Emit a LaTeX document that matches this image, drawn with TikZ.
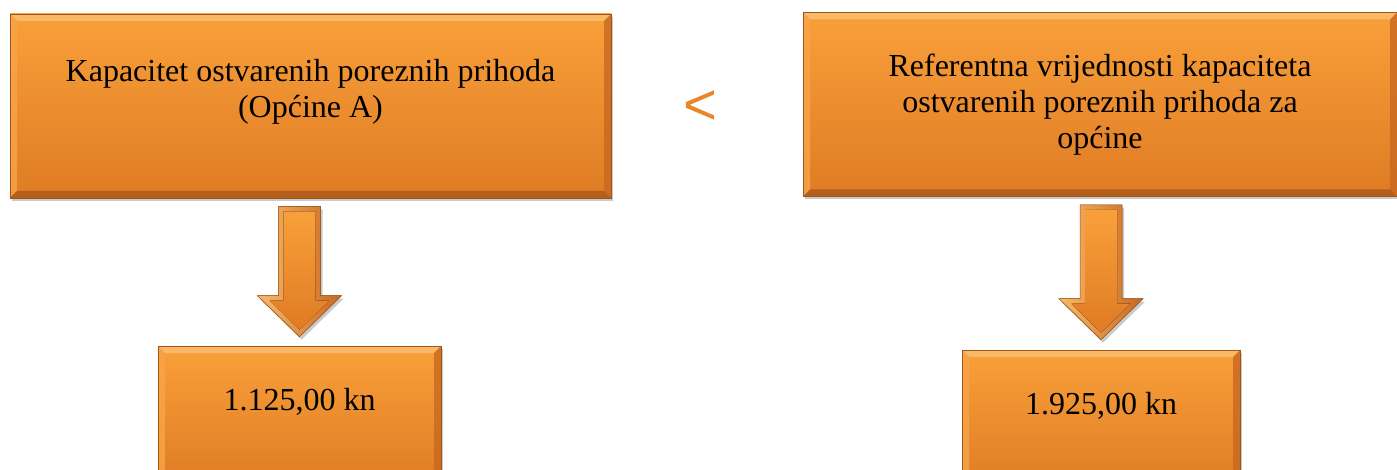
\documentclass[tikz,border=0pt]{standalone}
\usepackage{fontspec}
\setmainfont{Liberation Serif}
\newfontfamily\ltsans{Liberation Sans}
\usetikzlibrary{calc,shadows}
\definecolor{orTop}{HTML}{F9A03A}
\definecolor{orBot}{HTML}{DF7B24}
\definecolor{bvLight}{HTML}{FBB868}
\definecolor{bvLeft}{HTML}{F9A448}
\definecolor{bvRight}{HTML}{C8681F}
\definecolor{bvDark}{HTML}{B45E1B}
\definecolor{edge}{HTML}{A0561A}
\definecolor{ltOrange}{HTML}{E8862C}
\tikzset{
  x=1pt,y=1pt,
  bevelbox/.style={draw=edge, line width=0.6pt, rectangle, inner sep=0pt,
    top color=orTop, bottom color=orBot,
    drop shadow={shadow xshift=2pt, shadow yshift=-3pt, opacity=0.35, fill=black!60},
    font=\fontsize{32}{36}\selectfont, align=center, text=black,
    path picture={
      \coordinate (pnw) at (path picture bounding box.north west);
      \coordinate (pne) at (path picture bounding box.north east);
      \coordinate (psw) at (path picture bounding box.south west);
      \coordinate (pse) at (path picture bounding box.south east);
      \fill[bvLight] (pnw) -- (pne) -- ([shift={(-7pt,-7pt)}]pne) -- ([shift={(7pt,-7pt)}]pnw) -- cycle;
      \fill[bvLeft, opacity=0.8] (pnw) -- ([shift={(7pt,-7pt)}]pnw) -- ([shift={(7pt,7pt)}]psw) -- (psw) -- cycle;
      \fill[bvRight, opacity=0.8] (pne) -- ([shift={(-7pt,-7pt)}]pne) -- ([shift={(-7pt,7pt)}]pse) -- (pse) -- cycle;
      \fill[bvDark] (psw) -- ([shift={(7pt,7pt)}]psw) -- ([shift={(-7pt,7pt)}]pse) -- (pse) -- cycle;
    }},
  arrowouter/.style={left color=bvLight, right color=bvRight, draw=edge, line width=0.5pt,
    drop shadow={shadow xshift=2pt, shadow yshift=-3pt, opacity=0.35, fill=black!60}},
  arrowinner/.style={top color=orTop, bottom color=orBot},
  ltsign/.style={font=\ltsans\fontsize{58}{58}\selectfont, text=ltOrange, inner sep=0pt}
}
\newcommand{\blockarrow}[2]{%
  \fill[arrowouter] ($(#1)+(-21,0)$) -- ($(#2)+(-21,41)$) -- ($(#2)+(-42,41)$) -- (#2)
     -- ($(#2)+(42,41)$) -- ($(#2)+(21,41)$) -- ($(#1)+(21,0)$) -- cycle;
  \fill[arrowinner] ($(#1)+(-16,-5)$) -- ($(#2)+(-16,36)$) -- ($(#2)+(-29.5,36)$) -- ($(#2)+(0,7)$)
     -- ($(#2)+(29.5,36)$) -- ($(#2)+(16,36)$) -- ($(#1)+(16,-5)$) -- cycle;
}
\begin{document}
\begin{tikzpicture}
\useasboundingbox (0,0) rectangle (1397,469);
\clip (0,0) rectangle (1397,469);
% top boxes
\node[bevelbox, minimum width=601, minimum height=184, text depth=36pt] (t1) at (310.5,363)
  {Kapacitet ostvarenih poreznih prihoda\\(Općine A)};
\node[bevelbox, minimum width=594, minimum height=184] (t2) at (1100,364.5)
  {Referentna vrijednosti kapaciteta\\ostvarenih poreznih prihoda za\\općine};
% bottom boxes
\node[bevelbox, minimum width=283, minimum height=140,
  label={[anchor=center, yshift=-56pt, font=\fontsize{32}{36}\selectfont]north:1.125,00 kn}] (b1) at (299.5,53) {};
\node[bevelbox, minimum width=278, minimum height=140,
  label={[anchor=center, yshift=-56pt, font=\fontsize{32}{36}\selectfont]north:1.925,00 kn}] (b2) at (1101,49) {};
% less-than sign
\node[ltsign] (lt) at (700,361) {<};
% arrows
\coordinate (a1s) at ($(b1.north |- t1.south)+(0,-8)$);
\coordinate (a1e) at ($(b1.north)+(0,9)$);
\coordinate (a2s) at ($(b2.north |- t2.south)+(0,-8)$);
\coordinate (a2e) at ($(b2.north)+(0,10)$);
\blockarrow{a1s}{a1e}
\blockarrow{a2s}{a2e}
\end{tikzpicture}
\end{document}
